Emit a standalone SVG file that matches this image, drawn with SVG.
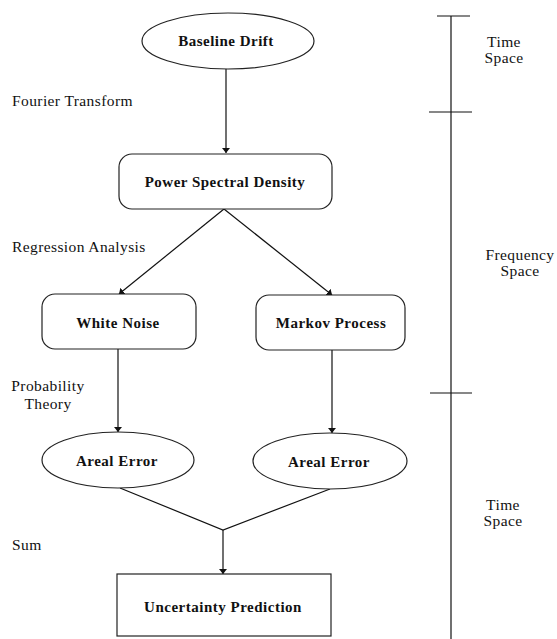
<svg xmlns="http://www.w3.org/2000/svg" width="557" height="639" viewBox="0 0 557 639">
<defs>
<marker id="ah" viewBox="0 0 10 10" refX="10" refY="5" markerWidth="5" markerHeight="8" markerUnits="userSpaceOnUse" orient="auto" preserveAspectRatio="none">
<path d="M0,0 L10,5 L0,10 z" fill="#111"/>
</marker>
<style>
.n{fill:#fff;stroke:#222;stroke-width:1.2}
.t{font-family:"Liberation Serif","Times New Roman",serif;font-size:15px;letter-spacing:0.5px;font-weight:bold;fill:#111;text-anchor:middle}
.s{font-family:"Liberation Serif","Times New Roman",serif;font-size:15.5px;letter-spacing:0.4px;fill:#111}
.c{fill:none;stroke:#111;stroke-width:1.2}
</style>
</defs>
<rect width="557" height="639" fill="#fff"/>
<g id="connectors">
<line class="c" x1="226" y1="69" x2="226" y2="153" marker-end="url(#ah)"/>
<line class="c" x1="224" y1="209" x2="119" y2="294" marker-end="url(#ah)"/>
<line class="c" x1="224" y1="209" x2="332" y2="295" marker-end="url(#ah)"/>
<line class="c" x1="118" y1="349" x2="118" y2="432" marker-end="url(#ah)"/>
<line class="c" x1="332" y1="350" x2="332" y2="433" marker-end="url(#ah)"/>
<polyline class="c" points="120,488 223,530 330,489"/>
<line class="c" x1="223" y1="530" x2="223" y2="574" marker-end="url(#ah)"/>
</g>
<g id="baseline-drift">
<ellipse class="n" cx="228" cy="41" rx="86" ry="28"/>
<text class="t" x="226" y="46">Baseline Drift</text>
</g>
<g id="psd">
<rect class="n" x="119" y="154" width="213" height="55" rx="13"/>
<text class="t" x="225" y="187">Power Spectral Density</text>
</g>
<g id="white-noise">
<rect class="n" x="42" y="294" width="154" height="55" rx="13"/>
<text class="t" x="118" y="328">White Noise</text>
</g>
<g id="markov">
<rect class="n" x="256" y="295" width="149" height="55" rx="13"/>
<text class="t" x="331" y="328">Markov Process</text>
</g>
<g id="areal-error-1">
<ellipse class="n" cx="118" cy="460" rx="76" ry="28"/>
<text class="t" x="117" y="466">Areal Error</text>
</g>
<g id="areal-error-2">
<ellipse class="n" cx="330" cy="461" rx="77" ry="28"/>
<text class="t" x="329" y="467">Areal Error</text>
</g>
<g id="uncertainty">
<rect class="n" x="117" y="574" width="214" height="62"/>
<text class="t" x="223" y="612">Uncertainty Prediction</text>
</g>
<g id="step-labels">
<text class="s" x="12" y="106">Fourier Transform</text>
<text class="s" x="12" y="252">Regression Analysis</text>
<text class="s" x="48" y="391" text-anchor="middle">Probability</text>
<text class="s" x="48" y="409" text-anchor="middle">Theory</text>
<text class="s" x="12" y="550">Sum</text>
</g>
<g id="domain-axis">
<line class="c" x1="451" y1="16" x2="451" y2="639"/>
<line class="c" x1="437" y1="16" x2="470" y2="16"/>
<line class="c" x1="429" y1="112" x2="472" y2="112"/>
<line class="c" x1="430" y1="393" x2="472" y2="393"/>
<text class="s" x="504" y="47" text-anchor="middle">Time</text>
<text class="s" x="504" y="63" text-anchor="middle">Space</text>
<text class="s" x="520" y="260" text-anchor="middle">Frequency</text>
<text class="s" x="520" y="276" text-anchor="middle">Space</text>
<text class="s" x="503" y="510" text-anchor="middle">Time</text>
<text class="s" x="503" y="526" text-anchor="middle">Space</text>
</g>
</svg>
